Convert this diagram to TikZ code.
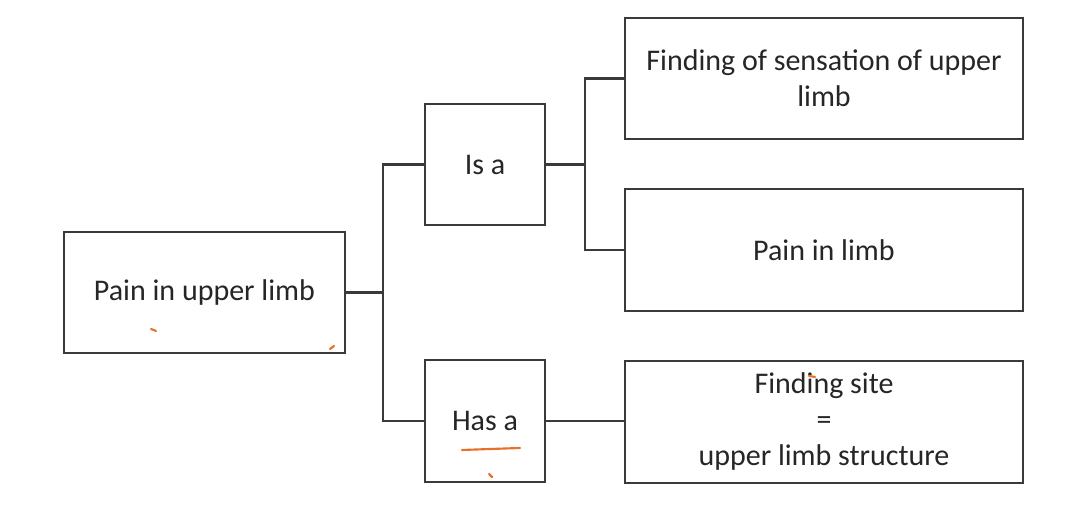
\documentclass[tikz,border=0pt]{standalone}
\usepackage{fontspec}
\setmainfont{Carlito}
\definecolor{linegray}{HTML}{3A3A3A}
\definecolor{txtgray}{HTML}{262626}
\definecolor{pen}{HTML}{E8702A}
\begin{document}
\begin{tikzpicture}[x=0.75pt,y=-0.75pt,
  box/.style={draw=linegray, line width=1.9pt, fill=white, inner sep=0pt,
    text=txtgray, align=center, font=\fontsize{22.5}{27}\selectfont},
  conn/.style={draw=linegray, line width=1.9pt},
  penmark/.style={draw=pen, line width=1.6pt, line cap=round}]
\useasboundingbox (0,0) rectangle (1070,523);
\node[box, minimum width=210.75pt, minimum height=90.75pt] (A) at (204.5,292.5) {Pain in upper limb};
\node[box, minimum width=90pt, minimum height=90.75pt] (isa) at (485,164.5) {Is a};
\node[box, minimum width=90pt, minimum height=91.5pt] (hasa) at (485,421) {Has a};
\node[box, minimum width=298.5pt, minimum height=90.75pt] (f1) at (824,78.5) {Finding of sensation of upper\\limb};
\node[box, minimum width=298.5pt, minimum height=91.5pt] (f2) at (824,250) {Pain in limb};
\node[box, minimum width=298.5pt, minimum height=91.5pt] (f3) at (824,422) {Finding site\\=\\upper limb structure};
\coordinate (j1) at (383,292.5);
\coordinate (j2) at (585,164.5);
\draw[conn] (A.east) -- (j1);
\draw[conn] (isa.west) -| (j1) |- (hasa.west);
\draw[conn] (isa.east) -- (j2);
\draw[conn] (f1.west) -| (j2) |- (f2.west);
\draw[conn] (hasa.east) -- (hasa.east -| f3.west);
% orange pen marks
\draw[penmark] (151,329) -- (156,331);
\draw[penmark] (330,349) -- (334,346);
\draw[penmark] (462,450) .. controls (490,449) .. (520,448);
\draw[penmark] (489,474) -- (492,477);
\draw[penmark] (809,376) -- (815,377);
\end{tikzpicture}
\end{document}
